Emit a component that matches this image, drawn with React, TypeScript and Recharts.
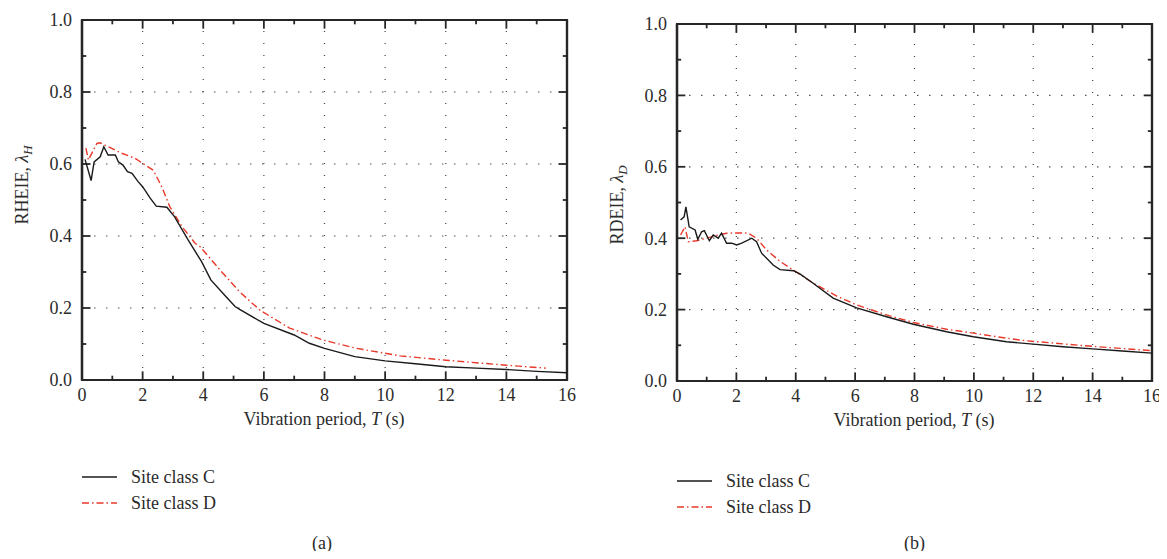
import { LineChart, Line, XAxis, YAxis, ReferenceLine, ReferenceArea, CartesianGrid } from 'recharts';

// x ticks (s) and y ticks, majors get labels
const periodTicks = [0, 1, 2, 3, 4, 5, 6, 7, 8, 9, 10, 11, 12, 13, 14, 15, 16];
const ratioTicks = [0, 0.1, 0.2, 0.3, 0.4, 0.5, 0.6, 0.7, 0.8, 0.9, 1.0];
const gridX = [2, 4, 6, 8, 10, 12, 14];
const gridY = [0.2, 0.4, 0.6, 0.8];

// (a) RHEIE
const periodHC = [0.1, 0.3, 0.4, 0.6, 0.72, 0.86, 1.1, 1.2, 1.35, 1.5, 1.65, 1.85, 2.0, 2.25, 2.45, 2.8, 3.05, 3.5, 3.95, 4.25, 4.7, 5.05, 5.2, 6.0, 7.0, 7.5, 8.0, 9.0, 10.0, 11.0, 12.0, 13.0, 14.0, 15.0, 16.0];
const rheieC = [0.613, 0.554, 0.606, 0.62, 0.648, 0.625, 0.625, 0.606, 0.597, 0.579, 0.574, 0.551, 0.537, 0.505, 0.483, 0.48, 0.454, 0.389, 0.328, 0.278, 0.236, 0.204, 0.196, 0.157, 0.125, 0.102, 0.088, 0.065, 0.053, 0.045, 0.037, 0.033, 0.029, 0.024, 0.02];
const periodHD = [0.13, 0.21, 0.38, 0.49, 0.6, 0.87, 1.3, 1.75, 2.0, 2.35, 2.63, 2.9, 3.3, 3.73, 3.9, 4.55, 5.2, 5.87, 6.85, 7.95, 9.05, 10.5, 12.0, 13.0, 14.0, 15.3];
const rheieD = [0.644, 0.611, 0.639, 0.657, 0.659, 0.648, 0.63, 0.616, 0.602, 0.583, 0.537, 0.481, 0.426, 0.38, 0.37, 0.306, 0.245, 0.194, 0.144, 0.111, 0.088, 0.067, 0.055, 0.048, 0.041, 0.033];

// (b) RDEIE
const periodDC = [0.12, 0.24, 0.3, 0.41, 0.61, 0.7, 0.83, 0.92, 1.09, 1.22, 1.39, 1.5, 1.67, 1.84, 2.01, 2.18, 2.52, 2.68, 2.85, 3.24, 3.47, 3.92, 4.14, 4.55, 5.26, 6.05, 7.06, 7.96, 9.08, 9.98, 11.1, 11.9, 13.0, 14.0, 15.0, 16.0];
const rdeieC = [0.451, 0.46, 0.488, 0.432, 0.423, 0.397, 0.418, 0.421, 0.393, 0.409, 0.4, 0.414, 0.386, 0.386, 0.381, 0.386, 0.4, 0.39, 0.358, 0.325, 0.312, 0.309, 0.3, 0.276, 0.232, 0.205, 0.18, 0.159, 0.138, 0.124, 0.11, 0.104, 0.096, 0.09, 0.084, 0.078];
const periodDD = [0.12, 0.27, 0.38, 0.66, 1.0, 1.39, 1.67, 2.12, 2.4, 2.68, 3.02, 3.47, 3.95, 4.55, 5.38, 6.05, 7.06, 7.96, 9.08, 9.98, 11.1, 11.72, 13.0, 14.0, 15.0, 16.0];
const rdeieD = [0.409, 0.432, 0.39, 0.393, 0.4, 0.409, 0.414, 0.415, 0.414, 0.4, 0.367, 0.335, 0.309, 0.276, 0.238, 0.213, 0.185, 0.164, 0.145, 0.134, 0.12, 0.113, 0.104, 0.097, 0.091, 0.085];

const seriesNames = ['Site class C', 'Site class D'];

const FONT = '"Liberation Serif", "DejaVu Serif", serif';
const FS = 18;
const TEXT = '#2b2b2b';
const AXIS = '#262626';
const RED = '#e8392a';
const RED_DASH = '7 3 1.5 3';

const zip = (ts: number[], vs: number[]) => ts.map((t, i) => ({ t, v: vs[i] }));
const fmtX = (v: number) => (Math.round(v) % 2 === 0 ? String(v) : '');
const fmtY = (v: number) => (Math.round(v * 10) % 2 === 0 ? v.toFixed(1) : '');

// frame edges from the chart's own offset (plot box)
const hEdges = (p: any) => (p && p.offset ? [p.offset.top, p.offset.top + p.offset.height] : []);
const vEdges = (p: any) => (p && p.offset ? [p.offset.left, p.offset.left + p.offset.width] : []);

// inward tick marks on all four sides, drawn as short segments in data units
function frameTicks() {
  const out: any[] = [];
  periodTicks.forEach((t) => {
    if (t === 0 || t === 16) return;
    const l = t % 2 === 0 ? 0.024 : 0.012;
    out.push(
      <ReferenceLine key={'bx' + t} segment={[{ x: t, y: 0.001 }, { x: t, y: l }]} stroke={AXIS} strokeWidth={1.8} />,
      <ReferenceLine key={'tx' + t} segment={[{ x: t, y: 0.999 }, { x: t, y: 1 - l }]} stroke={AXIS} strokeWidth={1.8} />
    );
  });
  ratioTicks.forEach((v, i) => {
    if (i === 0 || i === ratioTicks.length - 1) return;
    const l = i % 2 === 0 ? 0.28 : 0.14;
    out.push(
      <ReferenceLine key={'ly' + i} segment={[{ x: 0.01, y: v }, { x: l, y: v }]} stroke={AXIS} strokeWidth={1.8} />,
      <ReferenceLine key={'ry' + i} segment={[{ x: 15.99, y: v }, { x: 16 - l, y: v }]} stroke={AXIS} strokeWidth={1.8} />
    );
  });
  return out;
}

function Panel({
  dataC,
  dataD,
  width,
  margin,
}: {
  dataC: { t: number; v: number }[];
  dataD: { t: number; v: number }[];
  width: number;
  margin: { top: number; right: number; bottom: number; left: number };
}) {
  return (
    <LineChart width={width} height={559} margin={margin}>
      <CartesianGrid
        horizontalCoordinatesGenerator={hEdges}
        verticalCoordinatesGenerator={vEdges}
        stroke={AXIS}
        strokeWidth={2.2}
        fill="none"
      />
      <XAxis
        dataKey="t"
        type="number"
        domain={[0, 16]}
        ticks={periodTicks}
        interval={0}
        tickLine={false}
        tickFormatter={fmtX}
        tick={{ fontFamily: FONT, fontSize: FS, fill: TEXT }}
        axisLine={{ stroke: AXIS, strokeWidth: 2.2 }}
        height={60}
      />
      <YAxis
        type="number"
        domain={[0, 1]}
        ticks={ratioTicks}
        interval={0}
        tickLine={false}
        tickMargin={4}
        tickFormatter={fmtY}
        tick={{ fontFamily: FONT, fontSize: FS, fill: TEXT }}
        axisLine={{ stroke: AXIS, strokeWidth: 2.2 }}
        width={82}
      />
      <ReferenceArea x1={0} x2={16} y1={0} y2={1} fill="none" stroke={AXIS} strokeWidth={2.2} />
      {gridX.map((g) => (
        <ReferenceLine key={'x' + g} x={g} stroke="#444" strokeDasharray="1 11" strokeWidth={1.2} />
      ))}
      {gridY.map((g) => (
        <ReferenceLine key={'y' + g} y={g} stroke="#555" strokeDasharray="1.5 10.5" strokeWidth={1.2} />
      ))}
      {frameTicks()}
      <Line
        data={dataD}
        dataKey="v"
        name={seriesNames[1]}
        type="linear"
        stroke={RED}
        strokeWidth={1.4}
        strokeDasharray={RED_DASH}
        dot={false}
        isAnimationActive={false}
      />
      <Line
        data={dataC}
        dataKey="v"
        name={seriesNames[0]}
        type="linear"
        stroke="#1a1a1a"
        strokeWidth={1.4}
        dot={false}
        isAnimationActive={false}
      />
    </LineChart>
  );
}

function Titles({ left, yName, sub, yMid, xMid, xBase }: { left: number; yName: string; sub: string; yMid: number; xMid: number; xBase: number }) {
  return (
    <svg width={583} height={559} style={{ position: 'absolute', left, top: 0, pointerEvents: 'none' }}>
      <text transform={`translate(28,${yMid}) rotate(-90)`} textAnchor="middle" fontFamily={FONT} fontSize={FS} fill={TEXT}>
        {yName}, <tspan fontStyle="italic">λ</tspan>
        <tspan fontStyle="italic" fontSize={13} dy={4}>
          {sub}
        </tspan>
      </text>
      <text x={xMid} y={xBase} textAnchor="middle" fontFamily={FONT} fontSize={FS} fill={TEXT}>
        Vibration period, <tspan fontStyle="italic">T</tspan> (s)
      </text>
    </svg>
  );
}

function LegendBox({ left, top }: { left: number; top: number }) {
  return (
    <svg width={200} height={60} style={{ position: 'absolute', left, top }}>
      <line x1={0} x2={35} y1={12} y2={12} stroke="#1a1a1a" strokeWidth={1.4} />
      <text x={49} y={18} fontFamily={FONT} fontSize={FS} fill={TEXT}>
        {seriesNames[0]}
      </text>
      <line x1={0} x2={35} y1={38} y2={38} stroke={RED} strokeWidth={1.4} strokeDasharray={RED_DASH} />
      <text x={49} y={44} fontFamily={FONT} fontSize={FS} fill={TEXT}>
        {seriesNames[1]}
      </text>
    </svg>
  );
}

export default function App() {
  return (
    <div style={{ position: 'relative', margin: -8, width: 1167, height: 559, background: '#fff', overflow: 'hidden' }}>
      <div style={{ display: 'flex' }}>
        <div style={{ width: 595 }}>
          <Panel dataC={zip(periodHC, rheieC)} dataD={zip(periodHD, rheieD)} width={583} margin={{ top: 20, right: 16, bottom: 119, left: 0 }} />
        </div>
        <div style={{ width: 572 }}>
          <Panel dataC={zip(periodDC, rdeieC)} dataD={zip(periodDD, rdeieD)} width={572} margin={{ top: 24, right: 15, bottom: 118, left: 0 }} />
        </div>
      </div>
      <Titles left={0} yName="RHEIE" sub="H" yMid={185} xMid={324} xBase={425} />
      <Titles left={595} yName="RDEIE" sub="D" yMid={205} xMid={319} xBase={426} />
      <LegendBox left={82} top={465} />
      <LegendBox left={677} top={469} />
      <div style={{ position: 'absolute', left: 312, top: 533, fontFamily: FONT, fontSize: FS, color: TEXT }}>(a)</div>
      <div style={{ position: 'absolute', left: 904, top: 533, fontFamily: FONT, fontSize: FS, color: TEXT }}>(b)</div>
    </div>
  );
}
